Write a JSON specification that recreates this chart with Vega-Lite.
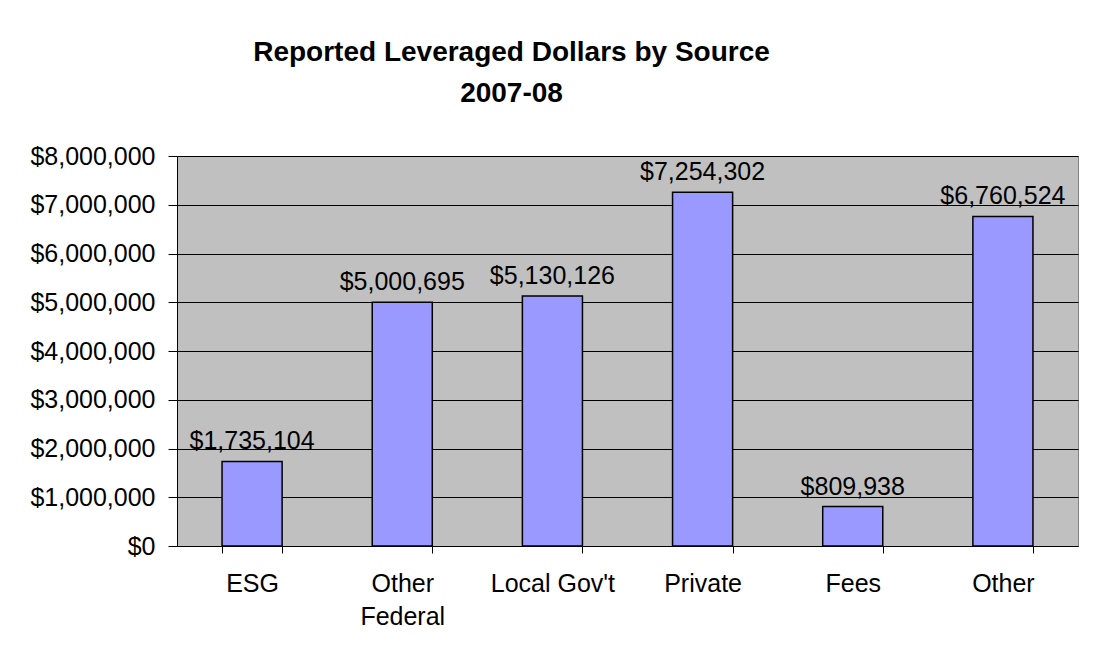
{
  "$schema": "https://vega.github.io/schema/vega-lite/v6.json",
  "autosize": "none",
  "padding": {"left": 177, "top": 156, "right": 17, "bottom": 109},
  "width": 901,
  "height": 390,
  "background": "white",
  "title": {
    "text": ["Reported Leveraged Dollars by Source", "2007-08"],
    "font": "Liberation Sans",
    "fontSize": 28,
    "fontWeight": "bold",
    "color": "black",
    "lineHeight": 41,
    "anchor": "middle",
    "frame": "group",
    "dx": -116,
    "offset": 36
  },
  "data": {
    "values": [
      {"source": "ESG", "amount": 1735104},
      {"source": "Other Federal", "amount": 5000695},
      {"source": "Local Gov't", "amount": 5130126},
      {"source": "Private", "amount": 7254302},
      {"source": "Fees", "amount": 809938},
      {"source": "Other", "amount": 6760524}
    ]
  },
  "encoding": {
    "x": {
      "field": "source",
      "type": "nominal",
      "sort": null,
      "title": null,
      "scale": {"paddingInner": 0.6, "paddingOuter": 0.3},
      "axis": {
        "labelAngle": 0,
        "tickBand": "extent",
        "tickSize": 7,
        "tickColor": "black",
        "domainColor": "black",
        "labelFont": "Liberation Sans",
        "labelFontSize": 25,
        "labelColor": "black",
        "labelPadding": 18,
        "labelLineHeight": 33,
        "labelExpr": "datum.value == 'Other Federal' ? ['Other', 'Federal'] : datum.value"
      }
    },
    "y": {
      "field": "amount",
      "type": "quantitative",
      "title": null,
      "scale": {"domain": [0, 8000000], "nice": false},
      "axis": {
        "values": [0, 1000000, 2000000, 3000000, 4000000, 5000000, 6000000, 7000000, 8000000],
        "format": "$,.0f",
        "grid": true,
        "gridColor": "black",
        "gridOpacity": 1,
        "tickSize": 9,
        "tickColor": "black",
        "domainColor": "black",
        "labelFont": "Liberation Sans",
        "labelFontSize": 25,
        "labelColor": "black",
        "labelPadding": 13
      }
    }
  },
  "layer": [
    {
      "mark": {"type": "bar", "color": "#9999FF", "stroke": "black", "strokeWidth": 1.5}
    },
    {
      "mark": {
        "type": "text",
        "font": "Liberation Sans",
        "fontSize": 25,
        "color": "black",
        "baseline": "alphabetic",
        "dy": -12
      },
      "encoding": {
        "text": {"field": "amount", "type": "quantitative", "format": "$,.0f"}
      }
    }
  ],
  "config": {
    "view": {"fill": "#C0C0C0", "stroke": "#808080", "strokeWidth": 1}
  }
}
